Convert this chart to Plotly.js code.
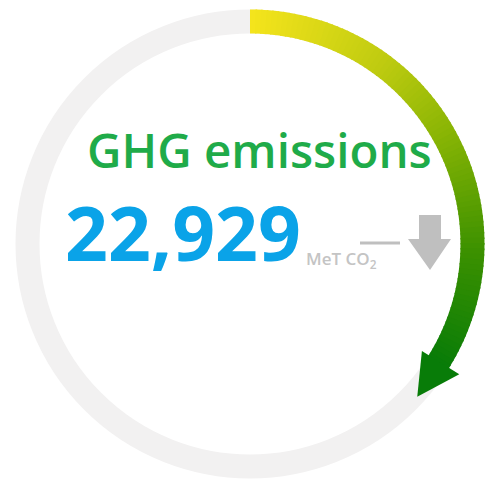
<!DOCTYPE html>
<html>
<head>
<meta charset="utf-8">
<script src="https://cdn.plot.ly/plotly-3.0.1.min.js"></script>
<style>html,body{margin:0;padding:0;background:#fff;}#chart{width:488px;height:481px;}</style>
</head>
<body>
<div id="chart"></div>
<script>
// ---- data ----
const metricLabels = ["GHG emissions"];
const metricValues = [22929];
const metricUnits = ["MeT CO<sub>2</sub>"];
const gaugeFractions = [0.34];      // share of the ring covered by the arrow body
const trendDirections = ["down"];

// ---- gauge geometry ----
const W = 488, H = 481;
const cx = 250, cy = 244, rMid = 222.5, ringW = 24;
const rOut = rMid + ringW / 2, rIn = rMid - ringW / 2;

function pt(r, deg) {
  const a = deg * Math.PI / 180;
  return [cx + r * Math.sin(a), cy - r * Math.cos(a)];
}
const stops = [
  [0.00, [245, 228, 28]],
  [0.30, [190, 203, 16]],
  [0.50, [135, 180, 4]],
  [0.75, [60, 145, 0]],
  [1.00, [8, 124, 8]]
];
function grad(t) {
  for (let i = 1; i < stops.length; i++) {
    if (t <= stops[i][0]) {
      const [t0, c0] = stops[i - 1], [t1, c1] = stops[i];
      const f = (t - t0) / (t1 - t0);
      const c = c0.map((v, k) => Math.round(v + (c1[k] - v) * f));
      return `rgb(${c[0]},${c[1]},${c[2]})`;
    }
  }
  return 'rgb(8,124,8)';
}

const shapes = [];
// background ring
shapes.push({type: 'circle', xref: 'x', yref: 'y', x0: cx - rMid, x1: cx + rMid, y0: cy - rMid, y1: cy + rMid,
  line: {color: '#f2f1f1', width: ringW}, fillcolor: 'rgba(0,0,0,0)', layer: 'below'});

// gradient arc
const endDeg = gaugeFractions[0] * 360;
const N = 90;
for (let i = 0; i < N; i++) {
  const a0 = endDeg * i / N, a1 = Math.min(endDeg, endDeg * (i + 1) / N + 0.4);
  const p = [pt(rOut, a0), pt(rOut, a1), pt(rIn, a1), pt(rIn, a0)];
  const path = 'M' + p.map(q => q[0].toFixed(2) + ',' + q[1].toFixed(2)).join(' L') + ' Z';
  const col = grad((i + 0.5) / N);
  shapes.push({type: 'path', xref: 'x', yref: 'y', path: path, fillcolor: col, line: {width: 0}});
}
// arrow head
const hb1 = pt(rMid - 20, endDeg - 0.5), hb2 = pt(rMid + 24, endDeg - 0.5), tip = pt(rMid + 4, endDeg + 10);
shapes.push({type: 'path', xref: 'x', yref: 'y',
  path: `M${hb1[0]},${hb1[1]} L${hb2[0]},${hb2[1]} L${tip[0]},${tip[1]} Z`,
  fillcolor: 'rgb(8,124,8)', line: {width: 0}});

// trend indicator (dash + down arrow)
const trendGray = '#bfbfbf';
shapes.push({type: 'line', xref: 'x', yref: 'y', x0: 360, x1: 400, y0: 243, y1: 243,
  line: {color: trendGray, width: 3}});
if (trendDirections[0] === 'down') {
  shapes.push({type: 'path', xref: 'x', yref: 'y',
    path: 'M419,215 L441,215 L441,239 L451,239 L430,270 L408,239 L419,239 Z',
    fillcolor: trendGray, line: {width: 0}});
}

const annotations = [
  {text: metricLabels[0], x: 259, y: 149, xref: 'x', yref: 'y', xanchor: 'center', yanchor: 'middle', showarrow: false,
   font: {family: 'Open Sans', size: 47.5, color: '#1fab49', weight: 600}},
  {text: metricValues[0].toLocaleString('en-US'), x: 63, y: 232, xref: 'x', yref: 'y', xanchor: 'left', yanchor: 'middle', showarrow: false,
   font: {family: 'Open Sans', size: 75, color: '#0aa3e8', weight: 700}},
  {text: metricUnits[0], x: 304, y: 259, xref: 'x', yref: 'y', xanchor: 'left', yanchor: 'middle', showarrow: false,
   font: {family: 'Open Sans', size: 17, color: '#c4c4c4', weight: 600}}
];

Plotly.newPlot('chart', [{x: [], y: [], type: 'scatter', mode: 'markers', hoverinfo: 'skip', showlegend: false}], {
  width: W, height: H,
  margin: {l: 0, r: 0, t: 0, b: 0},
  paper_bgcolor: '#fff', plot_bgcolor: '#fff',
  xaxis: {range: [0, W], visible: false, fixedrange: true},
  yaxis: {range: [H, 0], visible: false, fixedrange: true},
  shapes: shapes,
  annotations: annotations,
  showlegend: false
}, {staticPlot: true});
</script>
</body>
</html>
